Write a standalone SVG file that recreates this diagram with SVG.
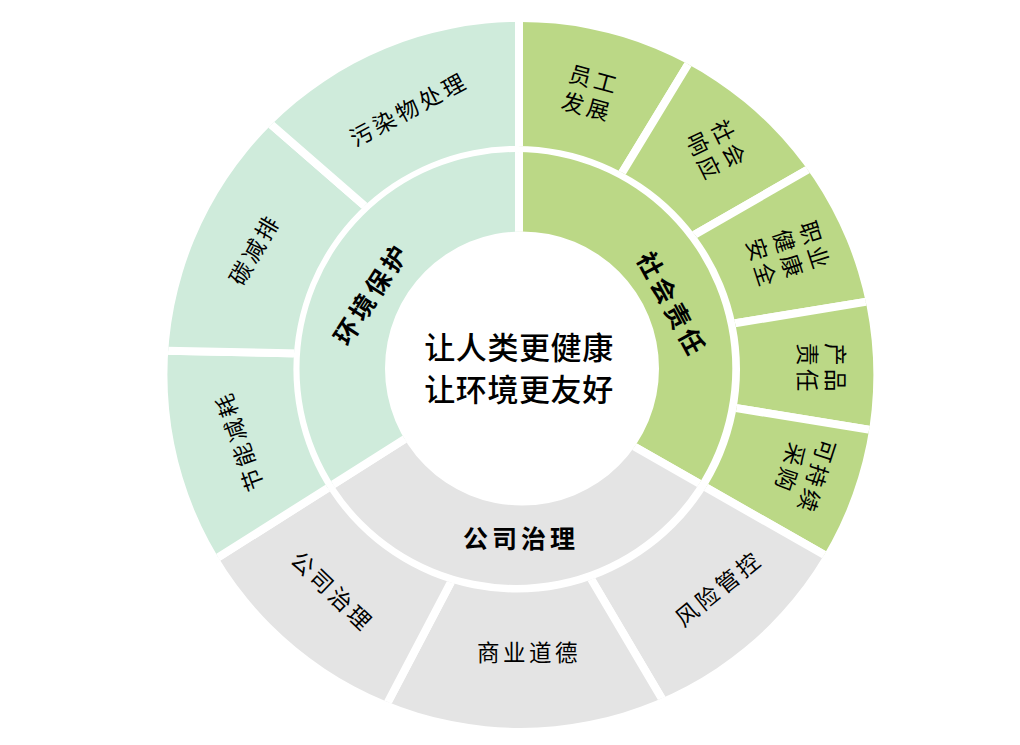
<svg xmlns="http://www.w3.org/2000/svg" width="1020" height="745" viewBox="0 0 1020 745">
<style>
.sec{stroke:#FFFFFF;stroke-width:8;stroke-linejoin:round}
.g{fill:#BBD886}
.e{fill:#CFEBDB}
.c{fill:#E4E4E4}
.ring{clip-path:url(#outerRing)}
.mid{clip-path:url(#midRing)}
text{font-family:"Noto Sans CJK SC","Noto Sans",sans-serif;fill:#000000;text-anchor:middle}
.lo{font-size:22.5px;letter-spacing:3.5px}
.lm{font-size:25px;font-weight:bold;letter-spacing:4px}
.lc{font-size:31px;font-weight:500;letter-spacing:0.6px}
</style>
<defs>
<clipPath id="outerRing"><path clip-rule="evenodd" d="M167.4,374.9a353,353 0 1,0 706,0a353,353 0 1,0 -706,0ZM293.4,369.2a223.3,223.3 0 1,0 446.6,0a223.3,223.3 0 1,0 -446.6,0Z"/></clipPath>
<clipPath id="midRing"><path clip-rule="evenodd" d="M299.5,368.5a216.4,216.4 0 1,0 432.8,0a216.4,216.4 0 1,0 -432.8,0ZM385,368.5a137,137 0 1,0 274,0a137,137 0 1,0 -274,0Z"/></clipPath>
</defs>
<rect x="0" y="0" width="1020" height="745" fill="#FFFFFF"/>

<g id="center">
<text class="lc" x="519" y="359.3">让人类更健康</text>
<text class="lc" x="519" y="400.8">让环境更友好</text>
</g>

<g id="mid-social">
<polygon class="sec g mid" points="519,250 519,100 800,100 800,530 758.8,517.6 605,429.9"/>
<text class="lm" transform="translate(671,303) rotate(61.6)" x="2" y="9.5">社会责任</text>
</g>
<g id="mid-governance">
<polygon class="sec c mid" points="605,429.9 758.8,517.6 800,700 240,700 275,521.3 420,429.4"/>
<text class="lm" x="521" y="548">公司治理</text>
</g>
<g id="mid-environment">
<polygon class="sec e mid" points="420,429.4 275,521.3 230,560 230,100 519,100 519,250"/>
<text class="lm" transform="translate(370.3,295) rotate(-57)" x="2" y="9.5">环境保护</text>
</g>

<g id="leaf-employee">
<polygon class="sec g ring" points="519,164 519,-30 631.9,-61.1 711.7,25.5 612.9,187.8"/>
<text class="lo" transform="translate(589,92.5) rotate(15)"><tspan x="2" y="-5.4">员工</tspan><tspan x="2" y="22.6">发展</tspan></text>
</g>
<g id="leaf-community">
<polygon class="sec g ring" points="612.9,187.8 711.7,25.5 820.9,40 844.1,148.7 679.3,243.5"/>
<text class="lo" transform="translate(716,149) rotate(64)"><tspan x="2" y="-5.4">社会</tspan><tspan x="2" y="22.6">响应</tspan></text>
</g>
<g id="leaf-safety">
<polygon class="sec g ring" points="679.3,243.5 844.1,148.7 933.7,196.9 909.4,294.65 716.96,326.24"/>
<text class="lo" transform="translate(788,253) rotate(72)"><tspan x="2" y="-19.4">职业</tspan><tspan x="2" y="8.6">健康</tspan><tspan x="2" y="36.6">安全</tspan></text>
</g>
<g id="leaf-product">
<polygon class="sec g ring" points="716.96,326.24 909.4,294.65 970.3,364.3 910.4,436.5 717.96,405.08"/>
<text class="lo" transform="translate(821.5,367) rotate(90)"><tspan x="2" y="-5.4">产品</tspan><tspan x="2" y="22.6">责任</tspan></text>
</g>
<g id="leaf-procurement">
<polygon class="sec g ring" points="717.96,405.08 910.4,436.5 943.9,527 858.8,574.6 687.6,477.1"/>
<text class="lo" transform="translate(804,471) rotate(108)"><tspan x="2" y="-5.4">可持续</tspan><tspan x="2" y="22.6">采购</tspan></text>
</g>
<g id="leaf-risk">
<polygon class="sec c ring" points="687.6,477.1 858.8,574.6 820.9,709.8 681.8,732.4 581.5,562.8"/>
<text class="lo" transform="translate(717,589.5) rotate(-39)" x="2" y="8.6">风险管控</text>
</g>
<g id="leaf-ethics">
<polygon class="sec c ring" points="581.5,562.8 681.8,732.4 527.1,824.9 370,736.2 459.7,565.3"/>
<text class="lo" x="529" y="661">商业道德</text>
</g>
<g id="leaf-governance">
<polygon class="sec c ring" points="459.7,565.3 370,736.2 227.2,716.3 177.8,582.8 344.3,477.6"/>
<text class="lo" transform="translate(331,590) rotate(44)" x="2" y="8.6">公司治理</text>
</g>
<g id="leaf-energy">
<polygon class="sec e ring" points="344.3,477.6 177.8,582.8 83.5,482.6 111.7,349.5 311.7,353.7"/>
<text class="lo" transform="translate(239.5,443) rotate(-109)" x="2" y="8.6">节能减耗</text>
</g>
<g id="leaf-carbon">
<polygon class="sec e ring" points="311.7,353.7 111.7,349.5 109.6,191.2 233.5,91.8 378.3,217.7"/>
<text class="lo" transform="translate(253.5,251) rotate(-60)" x="2" y="8.6">碳减排</text>
</g>
<g id="leaf-pollution">
<polygon class="sec e ring" points="378.3,217.7 233.5,91.8 346.7,-40.2 519,-30 519,164"/>
<text class="lo" transform="translate(407,110) rotate(-28)" x="2" y="8.6">污染物处理</text>
</g>

<g id="connectors"></g>
</svg>
